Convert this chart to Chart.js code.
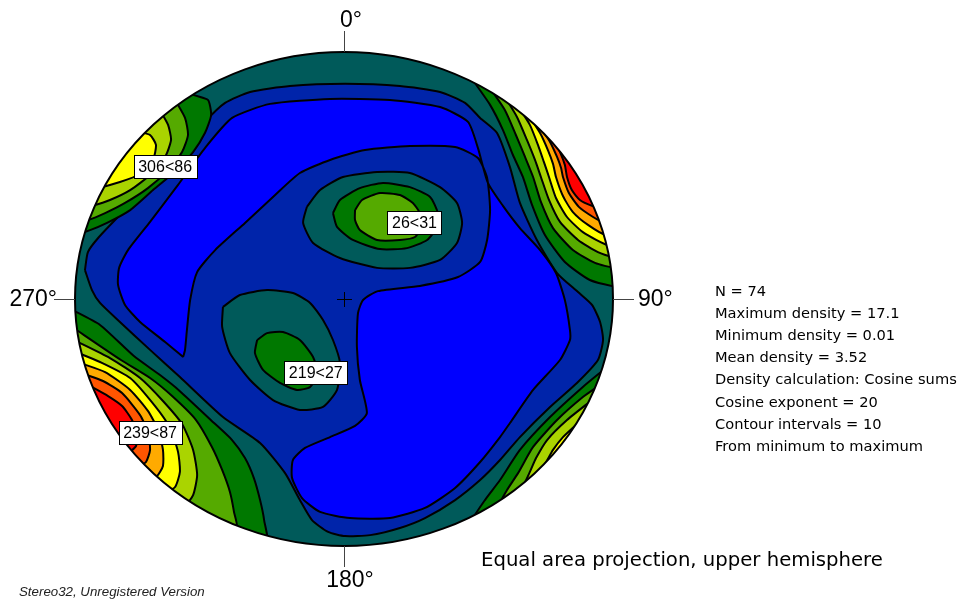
<!DOCTYPE html>
<html>
<head>
<meta charset="utf-8">
<script src="https://cdn.jsdelivr.net/npm/chart.js@4.4.1/dist/chart.umd.min.js"></script>
<style>
  html, body { margin: 0; background: #fff; }
  canvas { display: block; }
</style>
</head>
<body>
<canvas id="stereo" width="960" height="599"></canvas>
<script>
// Density contours, equal area net, radius = 100 units.
// Level colours, lowest density first (10 intervals from 0.01 to 17.1)
const levelColors = ['#0000ff', '#0024aa', '#005a5a', '#007800', '#55aa00',
                     '#aad400', '#ffff00', '#ffaa00', '#ff5500', '#ff0000'];

// contour outlines, [x, y] in net units
const darkBlue = [[-96.3,11.7],[-95.2,19],[-91.4,24.7],[-83.3,34],[-72.1,46.2],[-61,59.5],[-51.7,71.7],[-44.2,79.4],
  [-34.9,83.8],[-20.1,86.2],[0.4,87.1],[20.8,86.2],[35.7,83.8],[45,79.4],[50.6,73.3],[56.9,67.2],[61.7,53.4],
  [65.4,38.9],[71.7,23.9],[79.2,10.5],[87,2.8],[92.2,-2.4],[95.2,-9.3],[96.3,-16.6],[94.4,-24.7],[86.6,-34],
  [76.6,-43.7],[65.4,-55.9],[58,-65.2],[50.6,-73.3],[41.3,-81.4],[30.1,-88.7],[20.8,-92.7],[9.7,-95.6],[0.4,-96],
  [-5.9,-94.3],[-11.9,-89.5],[-16.4,-81.4],[-21.9,-70.5],[-31.2,-58.3],[-45,-47.8],[-61,-31.6],[-72.1,-20.6],
  [-83.3,-9.3],[-90.7,-1.6],[-93.7,3.6]];
const brightBlue = [[-59.8,-23.5],[-66.5,-17.4],[-75.8,-9.3],[-81.4,-2.4],[-84,5.7],[-83.6,12.6],[-80.3,19.8],
  [-72.1,31.2],[-61.7,46.2],[-51.7,61.1],[-41.6,73.3],[-27.5,79],[-5.2,81],[17.1,80.6],[35.7,77.7],[46.1,71.7],
  [49.8,61.1],[53.5,47],[59.1,37.7],[65.4,28.7],[72.9,19.8],[78.8,10.5],[82.1,-0.4],[84,-12.6],[84,-16.6],
  [80.3,-24.7],[70.3,-36.8],[61.7,-50.2],[58,-55.9],[50.6,-66],[41.3,-76.5],[30.1,-84.6],[17.1,-88.7],[2.2,-88.7],
  [-8.9,-86.2],[-15.6,-80.6],[-19.3,-72.5],[-19,-65.2],[-14.5,-60.3],[-5.2,-55.9],[4.1,-51.4],[8.5,-46.2],
  [5.9,-32.8],[4.8,-19.4],[5.2,-5.7],[7.1,-0.4],[12.6,3.2],[28.2,5.3],[42.4,8.9],[50.6,15],[53.2,23.9],[54.3,36],
  [53.2,49],[49.8,57.1],[41.3,61.5],[24.5,61.9],[7.8,60.3],[-5.2,56.3],[-16.4,51],[-25.6,42.1],[-36.8,30.8],
  [-47.9,19.8],[-54.6,10.9],[-57.2,-0.4],[-58.4,-12.6],[-59.1,-20.6]];

// maximum 26<31
const isl26Teal = [[-13.8,37.3],[-8.9,44.1],[-0.4,49.4],[12.3,51.4],[24.5,51],[35.7,45.3],[42,38.9],[43.9,30.8],
  [42,22.7],[35.7,15.8],[24.5,12.6],[12.3,12.6],[-1.5,16.6],[-11.5,22.7],[-15.2,30.8]];
const isl26Green = [[-4.1,34.8],[-1.5,40.1],[5.9,44.9],[14.5,47],[24.5,45.3],[32,41.3],[34.9,34.8],[34.6,29.2],
  [30.9,23.9],[23.4,20.6],[13.4,20.2],[3.3,23.9],[-2.6,29.2]];
const isl26Mid = [[4.1,36],[6.7,40.1],[13.4,42.9],[20.8,42.1],[25.6,38.9],[28.2,34.8],[29,30],[26.4,25.1],
  [20.8,23.9],[12.3,23.9],[5.9,27.9],[4.1,32]];

// maximum 219<27
const isl219Teal = [[-45,-3.2],[-38.7,1.6],[-28.6,3.6],[-19,2.4],[-12.6,-1.6],[-7.8,-8.5],[-4.1,-16.6],[-1.5,-25.9],
  [-2.6,-36.8],[-7.8,-43.7],[-16.4,-44.9],[-26.4,-40.9],[-34.9,-32.8],[-42.4,-21.9],[-45.3,-11.3]];
const isl219Green = [[-32.3,-16.6],[-28.6,-13.8],[-22.7,-13.4],[-16.4,-16.6],[-11.5,-23.5],[-10,-30],[-12.6,-35.6],
  [-17.5,-36.8],[-23.8,-34],[-30.1,-28.7],[-33.1,-21.9]];

// rim maximum 306<86 (ends run off the net)
const nwGreen = [[-58,92.7],[-57.2,83.4],[-50.6,80.6],[-49.4,74.5],[-51.7,67.2],[-56.1,59.5],[-62.1,52.2],[-71,44.1],
  [-79.5,36],[-88.1,30.8],[-94.4,27.9],[-101.8,25.5],[-117,25.5],[-117,105],[-58,105]];
const nwMid = [[-62.8,80.6],[-59.1,73.3],[-58,66.4],[-60.2,59.5],[-65.4,52.2],[-72.9,44.9],[-81.4,38.9],[-88.8,34.8],
  [-95.2,32],[-101.8,30.4],[-117,30.4],[-117,105],[-62.8,105]];
const nwLime = [[-68.4,76.5],[-65.4,70.5],[-64.3,64.4],[-66.5,57.5],[-72.1,50.2],[-79.5,44.1],[-87,40.1],[-93.7,37.7],
  [-100,36],[-117,36],[-117,105],[-68.4,105]];
const nwYellow = [[-75.8,67.6],[-72.1,66.4],[-69.9,62.4],[-71,56.3],[-75.8,50.6],[-83.3,47.4],[-92.6,44.9],
  [-117,44.9],[-117,105],[-75.8,105]];

// rim maximum to the north-east
const neGreen = [[46.8,90.3],[54.3,78.6],[59.1,68.4],[62.8,58.3],[66.5,49.4],[69.9,38.1],[74.7,25.9],[82.1,15],
  [91.4,7.7],[101.5,4.9],[114,4.9],[114,105],[46.8,105]];
const neMid = [[54.3,85.4],[59.8,76.5],[63.9,66.4],[67.3,57.5],[70.3,49.4],[73.2,39.3],[77.7,28.7],[85.1,19.8],
  [93.3,14.6],[100.7,12.6],[114,12.6],[114,105],[54.3,105]];
const neLime = [[59.8,81.8],[64.3,73.7],[68,64.4],[71,56.3],[73.2,49.4],[76.2,40.1],[80.3,31.2],[87,23.9],[94.4,19],
  [100,17],[114,17],[114,105],[59.8,105]];
const neYellow = [[64.7,78.1],[69.1,70.5],[72.1,62.4],[74.3,55.5],[76.2,49.4],[78.8,40.9],[82.9,33.2],[88.8,27.1],
  [98.9,21.5],[114,21.5],[114,105],[64.7,105]];
const neOrange = [[69.1,73.7],[72.9,67.2],[75.8,60.3],[77.7,54.7],[78.8,49.4],[81.4,41.7],[85.1,35.2],[90.7,30],
  [97.4,25.9],[114,25.9],[114,105],[69.1,105]];
const neOrangeRed = [[73.2,69.2],[76.6,63.6],[79.2,57.5],[80.7,53],[81.4,49.4],[83.6,42.9],[87.3,37.3],[92.6,33.2],
  [96.3,31.2],[114,31.2],[114,105],[73.2,105]];
const neRed = [[77.7,65.2],[80.3,59.5],[82.1,54.3],[82.9,49.4],[84.7,44.1],[87.7,40.1],[92.2,37.7],[95.2,36.8],
  [114,36.8],[114,105],[77.7,105]];

// rim maximum 239<87
const swGreen = [[-101.8,-4],[-90.7,-10.5],[-78.1,-23.1],[-68.4,-30.8],[-61,-37.3],[-48.3,-50.2],[-41.6,-57.1],
  [-36.8,-64.4],[-33.5,-72.5],[-31.2,-81.4],[-29.7,-89.5],[-29,-99.6],[-113,-122],[-121,-122],[-121,-4]];
const swMid = [[-101.1,-11.3],[-82.9,-24.7],[-72.1,-32],[-63.9,-39.3],[-55,-49],[-49.1,-59.9],[-45.3,-69.2],
  [-42.4,-78.1],[-40.9,-86.2],[-40.1,-93.5],[-113,-122],[-121,-122],[-121,-11.3]];
const swLime = [[-100.4,-16.6],[-87,-23.9],[-75.8,-32],[-67.3,-41.3],[-60.2,-50.6],[-56.1,-61.1],[-54.6,-71.3],
  [-56.1,-79.4],[-59.5,-84.2],[-113,-122],[-121,-122],[-121,-16.6]];
const swYellow = [[-99.6,-21.5],[-90.7,-25.5],[-79.5,-32],[-70.3,-43.3],[-64.7,-52.2],[-61.7,-61.9],[-61,-70],
  [-62.8,-76.1],[-66.9,-79],[-113,-122],[-121,-122],[-121,-21.5]];
const swOrange = [[-98.1,-25.9],[-88.8,-29.6],[-79.5,-36.8],[-72.9,-45.3],[-69.1,-53],[-67.3,-61.1],[-67.3,-67.6],
  [-69.5,-71.7],[-72.9,-73.7],[-113,-122],[-121,-122],[-121,-25.9]];
const swOrangeRed = [[-96.6,-30.4],[-89.6,-33.2],[-82.5,-38.1],[-75.8,-47],[-72.9,-53.9],[-72.1,-61.1],[-73.6,-66],
  [-76.6,-68.4],[-113,-122],[-121,-122],[-121,-30.4]];
const swRed = [[-94.4,-35.2],[-87.7,-39.3],[-82.5,-43.3],[-78.8,-49],[-76.9,-54.7],[-77.3,-59.5],[-80.3,-62.8],
  [-113,-122],[-121,-122],[-121,-35.2]];

// rim maximum to the south-east
const seGreen = [[97.4,-27.9],[88.8,-35.6],[76.6,-47.8],[65.4,-61.1],[58,-73.3],[52.4,-81.4],[47.6,-89.5],
  [36,-122],[132,-122],[132,-27.9]];
const seMid = [[95.2,-34.8],[88.8,-39.7],[79.2,-49],[70.3,-59.9],[64.7,-70.5],[60.6,-77.3],[57.2,-83.8],
  [36,-122],[132,-122],[132,-34.8]];
const seLime = [[92.2,-40.9],[82.9,-49],[75.5,-57.1],[71.4,-64.4],[69.1,-70],[66.9,-74.9],
  [36,-122],[132,-122],[132,-40.9]];
const seYellow = [[87,-50.2],[81.4,-55.9],[77.7,-61.1],[74.7,-66.8],[36,-122],[132,-122],[132,-50.2]];

// painting order: outline, level index, closed loop
const layers = [
  [darkBlue, 1, true], [brightBlue, 0, true],
  [isl26Teal, 2, true], [isl26Green, 3, true], [isl26Mid, 4, true],
  [isl219Teal, 2, true], [isl219Green, 3, true],
  [nwGreen, 3], [nwMid, 4], [nwLime, 5], [nwYellow, 6],
  [neGreen, 3], [neMid, 4], [neLime, 5], [neYellow, 6], [neOrange, 7], [neOrangeRed, 8], [neRed, 9],
  [swGreen, 3], [swMid, 4], [swLime, 5], [swYellow, 6], [swOrange, 7], [swOrangeRed, 8], [swRed, 9],
  [seGreen, 3], [seMid, 4], [seLime, 5], [seYellow, 6]
];

// maxima labels (trend<plunge) at their spot on the net
const maxLabels = ['306<86', '26<31', '219<27', '239<87'];
const maxX = [-66.5, 26.2, -10.5, -72.1];
const maxY = [53.6, 31, -29.7, -54];

const azimuths = [0, 90, 180, 270];
const infoLines = ['N = 74', 'Maximum density = 17.1', 'Minimum density = 0.01', 'Mean density = 3.52',
  'Density calculation: Cosine sums', 'Cosine exponent = 20', 'Contour intervals = 10', 'From minimum to maximum'];
const title = 'Equal area projection, upper hemisphere';
const footer = 'Stereo32, Unregistered Version';

const datasets = layers.map(([pts, lvl, closed], i) => {
  const data = pts.map(([x, y]) => ({x, y}));
  if (closed) data.push({x: pts[0][0], y: pts[0][1]});
  return {
    data, showLine: true, fill: 'shape', order: -i,
    backgroundColor: levelColors[lvl], borderColor: '#000', borderWidth: 2,
    pointRadius: 0, tension: 0.2
  };
});

function netGeom(chart) {
  const sx = chart.scales.x, sy = chart.scales.y;
  const cx = sx.getPixelForValue(0), cy = sy.getPixelForValue(0);
  return {cx, cy, rx: sx.getPixelForValue(100) - cx, ry: cy - sy.getPixelForValue(100)};
}

function fitSize(ctx, text, font, width) {
  ctx.font = font.replace('#', '20px');
  return 20 * width / ctx.measureText(text).width;
}

// clip the contours to the net and paint the base level
const netClip = {
  id: 'netClip',
  beforeDatasetsDraw(chart) {
    const {ctx} = chart, g = netGeom(chart);
    ctx.save();
    ctx.beginPath();
    ctx.ellipse(g.cx, g.cy, g.rx, g.ry, 0, 0, Math.PI * 2);
    ctx.fillStyle = levelColors[2];
    ctx.fill();
    ctx.clip();
  },
  afterDatasetsDraw(chart) {
    chart.ctx.restore();
  }
};

const netDecor = {
  id: 'netDecor',
  afterDraw(chart) {
    const {ctx} = chart, g = netGeom(chart);
    const sx = chart.scales.x, sy = chart.scales.y;
    ctx.save();
    ctx.beginPath();
    ctx.ellipse(g.cx, g.cy, g.rx, g.ry, 0, 0, Math.PI * 2);
    ctx.lineWidth = 2; ctx.strokeStyle = '#000'; ctx.stroke();

    // ticks and azimuth labels
    ctx.strokeStyle = '#444'; ctx.lineWidth = 1; ctx.fillStyle = '#000';
    ctx.font = '23px "Liberation Sans", Arial, sans-serif';
    azimuths.forEach(a => {
      const t = a * Math.PI / 180, dx = Math.sin(t), dy = -Math.cos(t);
      const x0 = g.cx + dx * g.rx, y0 = g.cy + dy * g.ry;
      ctx.beginPath();
      ctx.moveTo(Math.round(x0) + 0.5 * Math.abs(dy), Math.round(y0) + 0.5 * Math.abs(dx));
      ctx.lineTo(Math.round(x0 + dx * 21) + 0.5 * Math.abs(dy), Math.round(y0 + dy * 21) + 0.5 * Math.abs(dx));
      ctx.stroke();
      const lbl = a + '°';
      ctx.textBaseline = 'middle';
      if (a === 0) { ctx.textAlign = 'center'; ctx.fillText(lbl, x0 + 7, y0 - 31); }
      if (a === 180) { ctx.textAlign = 'center'; ctx.fillText(lbl, x0 + 6, y0 + 35); }
      if (a === 90) { ctx.textAlign = 'left'; ctx.fillText(lbl, x0 + 25, y0 + 1); }
      if (a === 270) { ctx.textAlign = 'right'; ctx.fillText(lbl, x0 - 18, y0 + 1); }
    });

    // centre cross
    ctx.strokeStyle = '#000';
    ctx.beginPath();
    ctx.moveTo(Math.round(g.cx) - 7, Math.round(g.cy) + 0.5); ctx.lineTo(Math.round(g.cx) + 8, Math.round(g.cy) + 0.5);
    ctx.moveTo(Math.round(g.cx) + 0.5, Math.round(g.cy) - 7); ctx.lineTo(Math.round(g.cx) + 0.5, Math.round(g.cy) + 8);
    ctx.stroke();

    // maxima boxes
    ctx.font = '16px "Liberation Sans", Arial, sans-serif';
    ctx.textAlign = 'center'; ctx.textBaseline = 'middle';
    maxLabels.forEach((lbl, i) => {
      const px = sx.getPixelForValue(maxX[i]), py = sy.getPixelForValue(maxY[i]);
      const w = Math.round(ctx.measureText(lbl).width + 9), h = 23;
      const x = Math.round(px - w / 2) + 0.5, y = Math.round(py - h / 2) + 0.5;
      ctx.fillStyle = '#fff'; ctx.fillRect(x, y, w, h);
      ctx.strokeStyle = '#000'; ctx.strokeRect(x, y, w, h);
      ctx.fillStyle = '#000'; ctx.fillText(lbl, px, py + 1);
    });

    // statistics
    const infoFont = '# "DejaVu Sans", Verdana, sans-serif';
    const fs = fitSize(ctx, infoLines[4], infoFont, 242);
    ctx.font = infoFont.replace('#', fs.toFixed(2) + 'px');
    ctx.textAlign = 'left'; ctx.textBaseline = 'middle';
    infoLines.forEach((s, i) => ctx.fillText(s, 715, 292 + i * 22.15));

    const tfs = fitSize(ctx, title, infoFont, 402);
    ctx.font = infoFont.replace('#', tfs.toFixed(2) + 'px');
    ctx.fillText(title, 481, 561);

    const ffont = 'italic # "Liberation Sans", Arial, sans-serif';
    const ffs = fitSize(ctx, footer, ffont, 186);
    ctx.font = ffont.replace('#', ffs.toFixed(2) + 'px');
    ctx.fillStyle = '#222';
    ctx.fillText(footer, 19, 592);
    ctx.restore();
  }
};

new Chart(document.getElementById('stereo'), {
  type: 'scatter',
  data: {datasets},
  options: {
    responsive: false,
    animation: false,
    layout: {padding: {left: 75, right: 347, top: 52, bottom: 53}},
    scales: {
      x: {type: 'linear', min: -100, max: 100, display: false},
      y: {type: 'linear', min: -100, max: 100, display: false}
    },
    plugins: {legend: {display: false}, tooltip: {enabled: false}},
    events: []
  },
  plugins: [netClip, netDecor]
});
</script>
</body>
</html>
